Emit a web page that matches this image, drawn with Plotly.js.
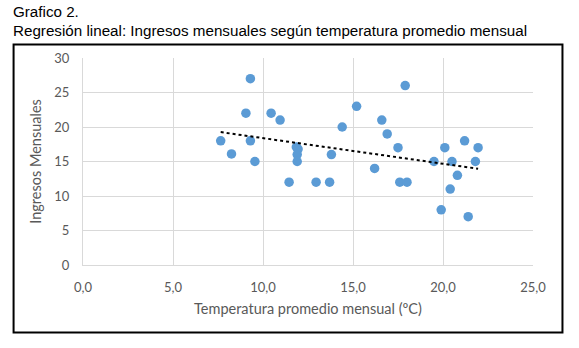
<!DOCTYPE html>
<html>
<head>
<meta charset="utf-8">
<script src="https://cdn.plot.ly/plotly-3.0.1.min.js"></script>
<style>
html,body{margin:0;padding:0;background:#fff;}
#chart{width:579px;height:348px;}
</style>
</head>
<body>
<div id="chart"></div>
<script>
// Temperatura promedio mensual (ºC)
const temperatura = [9.3, 9.05, 10.45, 10.95, 7.65, 9.3, 8.25, 9.55, 11.85, 11.95, 11.9, 11.9, 11.45, 12.95,
  13.7, 13.8, 14.4, 15.2, 17.9, 16.6, 16.9, 17.5, 16.2, 17.6, 18.0, 19.5, 20.1, 20.5, 21.2, 21.95, 21.8,
  20.8, 20.4, 19.9, 21.4];
// Ingresos mensuales
const ingresos = [27, 22, 22, 21, 18, 18, 16.1, 15, 17.1, 16.8, 16, 15, 12, 12,
  12, 16, 20, 23, 26, 21, 19, 17, 14, 12, 12, 15, 17, 15, 18, 17, 15,
  13, 11, 8, 7];
const xTicks = [0, 5, 10, 15, 20, 25];
const yTicks = [0, 5, 10, 15, 20, 25, 30];

// least-squares trendline over the data range
const n = temperatura.length;
const mx = temperatura.reduce((a, b) => a + b, 0) / n;
const my = ingresos.reduce((a, b) => a + b, 0) / n;
let sxy = 0, sxx = 0;
for (let i = 0; i < n; i++) { sxy += (temperatura[i] - mx) * (ingresos[i] - my); sxx += (temperatura[i] - mx) ** 2; }
const slope = sxy / sxx, icpt = my - slope * mx;
const xmin = Math.min(...temperatura), xmax = Math.max(...temperatura);

const gridColor = '#d9d9d9';
const fam = 'Lato, Carlito, Calibri, sans-serif';
const tickFont = {family: fam, size: 13, color: '#595959'};

const L = 82.5, R = 46, T = 58, B = 83, W = 579, H = 348;
const pw = W - L - R, ph = H - T - B;
const px = v => (v - L) / pw;
const py = v => (H - B - v) / ph;

Plotly.newPlot('chart', [
  {x: temperatura, y: ingresos, type: 'scatter', mode: 'markers',
   marker: {color: '#5b9bd5', size: 9.5}, hoverinfo: 'x+y', cliponaxis: false},
  {x: [xmin, xmax], y: [icpt + slope * xmin, icpt + slope * xmax], type: 'scatter', mode: 'lines',
   line: {color: '#000', width: 2, dash: 'dot'}, hoverinfo: 'skip'}
], {
  width: W, height: H,
  margin: {l: L, r: R, t: T, b: B},
  paper_bgcolor: '#fff', plot_bgcolor: '#fff',
  showlegend: false,
  separators: ', ',
  xaxis: {range: [0, 25], tickvals: xTicks, tickformat: '.1f', showgrid: true, gridcolor: gridColor, gridwidth: 1,
    zeroline: false, showline: true, linecolor: gridColor, ticks: '', tickfont: tickFont, fixedrange: true,
    ticklabelstandoff: 10,
    title: {text: 'Temperatura promedio mensual (ºC)', font: {family: fam, size: 14.5, color: '#595959'}, standoff: 10}},
  yaxis: {range: [0, 30], tickvals: yTicks, showgrid: true, gridcolor: gridColor, gridwidth: 1,
    zeroline: false, showline: true, linecolor: gridColor, ticks: '', tickfont: tickFont, fixedrange: true,
    ticklabelstandoff: 10,
    title: {text: 'Ingresos Mensuales', font: {family: fam, size: 14.5, color: '#595959'}, standoff: 9}},
  shapes: [
    {type: 'rect', xref: 'paper', yref: 'paper', x0: px(13), x1: px(562.5), y0: py(332.5), y1: py(44.5),
     line: {color: '#000', width: 2}, fillcolor: 'rgba(0,0,0,0)', layer: 'below'}
  ],
  annotations: [
    {text: 'Grafico 2.', xref: 'paper', yref: 'paper', x: px(10), y: py(21.5), xanchor: 'left', yanchor: 'bottom',
     showarrow: false, font: {family: 'Liberation Sans, Arial, sans-serif', size: 15.2, color: '#000'}},
    {text: 'Regresión lineal: Ingresos mensuales según temperatura promedio mensual', xref: 'paper', yref: 'paper',
     x: px(10), y: py(41), xanchor: 'left', yanchor: 'bottom',
     showarrow: false, font: {family: 'Liberation Sans, Arial, sans-serif', size: 15.2, color: '#000'}}
  ]
}, {displayModeBar: false, staticPlot: true});
</script>
</body>
</html>
